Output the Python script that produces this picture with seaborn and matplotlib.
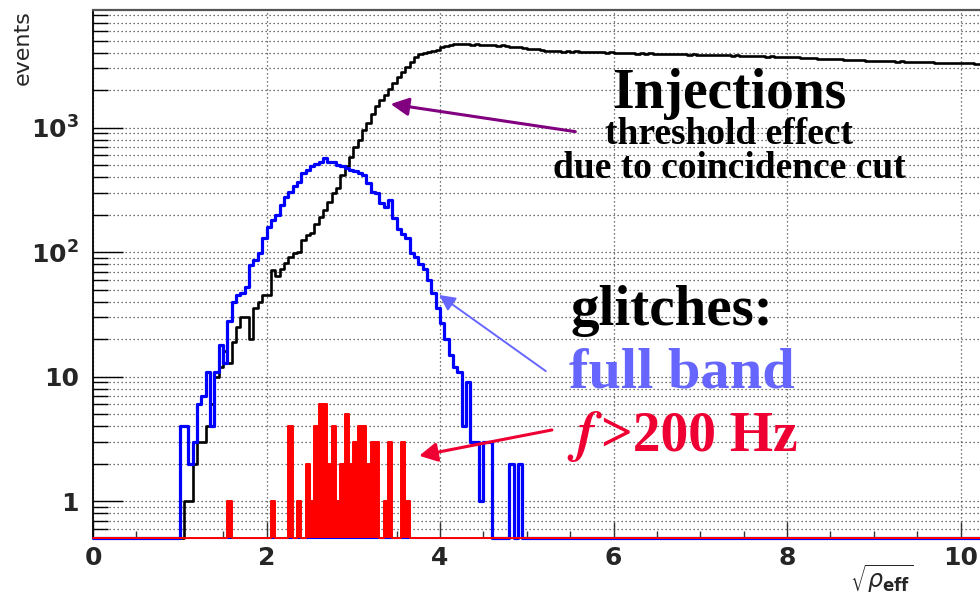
import numpy as np
import matplotlib
matplotlib.use("Agg")
import matplotlib.pyplot as plt
import seaborn as sns
from matplotlib.ticker import MultipleLocator, LogLocator, FuncFormatter, NullFormatter

# ---- histogram data (bin width 0.05 in sqrt(rho_eff)) ----
BIN_WIDTH = 0.05
X_MAX = 10.5
Y_MIN, Y_MAX = 0.507, 8835

# software injections, first bin starts at 1.00
inj_start = 1.00
injections = [
    0, 1, 1, 2, 3, 3, 4, 6, 10, 12,
    16, 13, 19, 25, 30, 30, 20, 36, 40, 45,
    45, 72, 64, 74, 82, 92, 98, 101, 125, 138,
    142, 170, 193, 218, 255, 297, 330, 418, 490, 585,
    700, 800, 965, 1100, 1300, 1500, 1680, 1830, 2050, 2300,
    2550, 2820, 3100, 3400, 3720, 3910, 4000, 4080, 4160, 4200,
    4450, 4550,
    4630, 4700, 4680, 4720, 4700, 4660, 4690, 4650, 4620, 4640,
    4600, 4560, 4590, 4520, 4470, 4420, 4450, 4380, 4310, 4330,
    4260, 4200, 4150, 4170, 4120, 4140, 4100, 4120, 4080, 4110,
    4070, 4090, 4060, 4080, 4040, 4060, 4020, 4050, 4010, 3990,
    4020, 3970, 3990, 3950, 3980, 3940, 3960, 3920, 3950, 3910,
    3930, 3890, 3920, 3880, 3900, 3870, 3890, 3850, 3870, 3840,
    3860, 3820, 3850, 3810, 3830, 3800, 3820, 3780, 3800, 3770,
    3780, 3750, 3760, 3730, 3740, 3710, 3720, 3700, 3690, 3670,
    3680, 3650, 3640, 3620, 3630, 3600, 3590, 3570, 3580, 3550,
    3540, 3520, 3530, 3500, 3490, 3480, 3470, 3460, 3450, 3440,
    3430, 3420, 3420, 3400, 3410, 3390, 3380, 3370, 3380, 3360,
    3350, 3360, 3340, 3330, 3340, 3320, 3310, 3320, 3300, 3290,
    3300, 3280, 3270,
]

# glitches, full frequency band, first bin starts at 1.00
full_start = 1.00
glitches_full = [
    4, 4, 2, 3, 6, 7, 11, 4, 11, 18,
    13, 28, 40, 45, 47, 53, 79, 86, 98, 130,
    160, 181, 199, 240, 280, 306, 338, 367, 430, 460,
    492, 515, 533, 570, 533, 533, 505, 490, 475, 460,
    446, 430, 418, 358, 306, 297, 247, 232, 262, 189,
    155, 140, 130, 98, 92, 80, 74, 60, 47, 36,
    27, 20, 15, 12, 11, 4, 9, 3, 3, 1,
    3, 3, 0, 0, 0, 0, 2, 0, 2,
]

# glitches with f > 200 Hz, first bin starts at 1.10
hf_start = 1.10
glitches_hf = [
    0, 0, 0, 0, 0, 0, 0, 0, 0, 1,
    0, 0, 0, 0, 0, 0, 0, 0, 0, 1,
    0, 0, 0, 4, 0, 1, 0, 2, 1, 4,
    6, 6, 2, 4, 1, 2, 5, 2, 3, 4,
    4, 2, 3, 3, 0, 1, 3, 0, 0, 3,
    1,
]

N_BINS = int(round(X_MAX / BIN_WIDTH))
edges = np.arange(N_BINS + 1) * BIN_WIDTH


def on_grid(start, counts):
    out = np.zeros(N_BINS)
    i0 = int(round(start / BIN_WIDTH))
    out[i0:i0 + len(counts)] = counts
    # empty bins sit on the lower frame edge, as ROOT draws them
    out = np.where(out > 0, out, Y_MIN)
    return np.append(out, out[-1])


inj_y = on_grid(inj_start, injections)
full_y = on_grid(full_start, glitches_full)
hf_y = on_grid(hf_start, glitches_hf)

# ---- style ----
sns.set_style("white")
plt.rcParams["font.family"] = ["DejaVu Sans"]
plt.rcParams["mathtext.fontset"] = "dejavusans"

fig = plt.figure(figsize=(9.8, 5.96), dpi=100)
ax = fig.add_axes([93 / 980, 58 / 596, X_MAX * 86.75 / 980, 528 / 596])

sns.lineplot(x=edges, y=inj_y, drawstyle="steps-post", color="black",
             lw=1.9, ax=ax, estimator=None, sort=False, clip_on=False, zorder=3)
sns.lineplot(x=edges, y=full_y, drawstyle="steps-post", color="#0000ff",
             lw=2.3, ax=ax, estimator=None, sort=False, clip_on=False, zorder=4)
ax.fill_between(edges, hf_y, Y_MIN, step="post", color="#ff0000", lw=0, zorder=5)
sns.lineplot(x=edges, y=hf_y, drawstyle="steps-post", color="#ff0000",
             lw=1.4, ax=ax, estimator=None, sort=False, clip_on=False, zorder=5)

ax.set_yscale("log")
ax.set_xlim(0, X_MAX)
ax.set_ylim(Y_MIN, Y_MAX)
ax.set_xlabel("")
ax.set_ylabel("")

# axes, ticks, grid
ax.spines["right"].set_visible(False)
ax.spines["left"].set_color("black")
ax.spines["left"].set_linewidth(1.3)
ax.spines["top"].set_color("#555555")
ax.spines["top"].set_linewidth(1.6)
ax.spines["bottom"].set_color("#0000ff")

ax.xaxis.set_major_locator(MultipleLocator(2))
ax.xaxis.set_minor_locator(MultipleLocator(0.5))
ax.yaxis.set_major_locator(LogLocator(base=10, numticks=10))
ax.yaxis.set_minor_locator(LogLocator(base=10, subs=np.arange(2, 10), numticks=20))


def ylab(v, _):
    e = int(round(np.log10(v)))
    if e <= 0:
        return "1"
    if e == 1:
        return "10"
    return r"$\mathbf{10^{%d}}$" % e


ax.yaxis.set_major_formatter(FuncFormatter(ylab))
ax.yaxis.set_minor_formatter(NullFormatter())
ax.xaxis.set_major_formatter(FuncFormatter(lambda v, _: f"{int(round(v))}"))

ax.tick_params(axis="y", which="major", direction="in", length=21.6, width=1.0,
               color="black", labelsize=18, pad=10, left=True)
ax.tick_params(axis="y", which="minor", direction="in", length=10.8, width=1.0,
               color="black", left=True)
ax.tick_params(axis="x", which="major", direction="in", length=11.5, width=1.0,
               color="#333333", labelsize=18, pad=6, bottom=True)
ax.tick_params(axis="x", which="minor", direction="in", length=5, width=1.0,
               color="#333333", bottom=True)
for lab in ax.get_xticklabels() + ax.get_yticklabels():
    lab.set_fontweight("bold")

grid_style = dict(ls=(0, (1, 2.2)), color="#444444", lw=0.9)
ax.grid(False)
ax.yaxis.grid(True, which="both", **grid_style)
ax.xaxis.grid(True, which="major", **grid_style)
ax.set_axisbelow(True)

# axis titles
fig.text(23 / 980, 1 - 10 / 596, "events", rotation=90, ha="center", va="top",
         fontsize=16)
fig.text(850 / 980, 34 / 596, r"$\sqrt{\rho_{\mathbf{eff}}}$", ha="left", va="top",
         fontsize=17)

# annotations
serif = dict(family=["Liberation Serif", "DejaVu Serif"], fontweight="bold")
ax.text(7.33, 1442, "Injections", ha="center", va="baseline", fontsize=40,
        color="black", zorder=6, **serif)
ax.text(7.33, 741, "threshold effect", ha="center", va="baseline", fontsize=27,
        color="black", zorder=6, **serif)
ax.text(7.33, 395, "due to coincidence cut", ha="center", va="baseline",
        fontsize=27, color="black", zorder=6, **serif)

ax.text(5.50, 26.1, "glitches:", ha="left", va="baseline", fontsize=41,
        color="black", zorder=6, **serif)
ax.text(5.49, 8.13, "full band", ha="left", va="baseline", fontsize=42,
        color="#6666ff", zorder=6, **serif)
ax.text(5.46, 2.58, r"$\mathbfit{f}$", ha="left", va="baseline", fontsize=40,
        color="#ee0033", zorder=6, math_fontfamily="stix")
ax.text(5.86, 2.58, ">200 Hz", ha="left", va="baseline", fontsize=40,
        color="#ee0033", zorder=6, **serif)

ax.annotate("", xy=(3.43, 1553), xytext=(5.56, 931),
            arrowprops=dict(arrowstyle="-|>,head_length=0.6,head_width=0.3",
                            color="#800080", lw=2.2, mutation_scale=18,
                            shrinkA=0, shrinkB=0), zorder=6)
ax.annotate("", xy=(3.99, 45.4), xytext=(5.22, 11.1),
            arrowprops=dict(arrowstyle="-|>,head_length=0.6,head_width=0.3",
                            color="#6666ff", lw=1.4, mutation_scale=16,
                            shrinkA=0, shrinkB=0), zorder=6)
ax.annotate("", xy=(3.76, 2.32), xytext=(5.29, 3.74),
            arrowprops=dict(arrowstyle="-|>,head_length=0.6,head_width=0.32",
                            color="#ee0033", lw=2.2, mutation_scale=18,
                            shrinkA=0, shrinkB=0), zorder=6)

fig.savefig("out.png", dpi=100)
